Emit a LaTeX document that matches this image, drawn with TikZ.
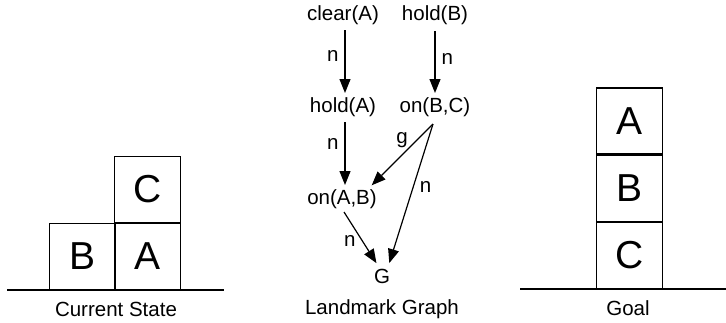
\documentclass[tikz,border=0pt]{standalone}
\usepackage{fontspec}
\setmainfont{Liberation Sans}
\usetikzlibrary{arrows.meta}
\begin{document}
\begin{tikzpicture}[x=1pt,y=-1pt,
  lbl/.style={font=\fontsize{20.5}{23}\selectfont, inner sep=0pt},
  blk/.style={draw, line width=1.2pt, minimum width=66pt, minimum height=66pt, inner sep=0pt, font=\fontsize{39}{42}\selectfont},
  gnd/.style={line width=1.2pt},
  arr/.style={line width=1.2pt, -{Triangle[length=14pt,width=11pt]}, shorten >=1pt},
  elbl/.style={font=\fontsize{20.5}{23}\selectfont, inner sep=0pt}]
\useasboundingbox (0,0) rectangle (726,322);
% Current state
\coordinate (g1a) at (7,290);
\coordinate (g1b) at (224,290);
\draw[gnd] (g1a) -- (g1b);
\node[blk, anchor=south west] (B1) at (49,290) {B};
\node[blk, anchor=south west] (A1) at (114,290) {A};
\node[blk, anchor=south] (C1) at (A1.north) {C};
\node[lbl] (cs) at (116,309) {Current State};
% Goal
\coordinate (g2a) at (520,289);
\coordinate (g2b) at (726,289);
\draw[gnd] (g2a) -- (g2b);
\node[blk, anchor=south west] (C2) at (596,289) {C};
\node[blk, anchor=south] (B2) at (C2.north) {B};
\node[blk, anchor=south] (A2) at (B2.north) {A};
\node[lbl] (goal) at (628,308) {Goal};
% Landmark graph
\node[lbl] (clA) at (343,15) {clear(A)};
\node[lbl] (hB) at (435,15) {hold(B)};
\node[lbl] (hA) at (343,107) {hold(A)};
\node[lbl] (oBC) at (435,107) {on(B,C)};
\node[lbl] (oAB) at (342,199) {on(A,B)};
\node[lbl] (G) at (382,276) {G};
\node[lbl] (lg) at (382,309) {Landmark Graph};
\coordinate (apex) at (433,124);
\draw[arr] (345,30) -- node[elbl, left=6pt, pos=0.4] {n} (345,94);
\draw[arr] (435,31) -- node[elbl, right=6pt, pos=0.45] {n} (435,94);
\draw[arr] (345,122) -- node[elbl, left=6pt, pos=0.35] {n} (345,186);
\draw[arr] (apex) -- (371,186);
\node[elbl] (glbl) at (402,140) {g};
\draw[arr] (apex) -- node[elbl, right=6pt, pos=0.45] {n} (389,264);
\draw[arr] (344,212) -- node[elbl, left=6pt, pos=0.55] {n} (377,264);
\end{tikzpicture}
\end{document}
